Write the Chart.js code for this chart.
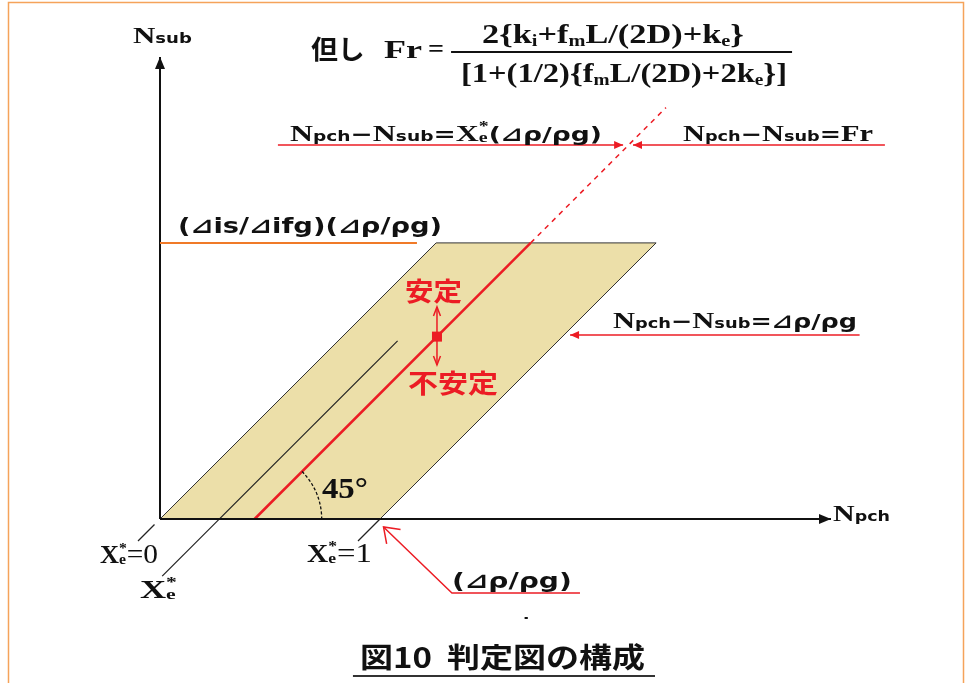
<!DOCTYPE html>
<html>
<head>
<meta charset="utf-8">
<title>判定図の構成</title>
<script src="https://cdn.jsdelivr.net/npm/chart.js@4/dist/chart.umd.min.js"></script>
<style>
  html, body { margin: 0; padding: 0; background: #ffffff; }
  #wrap { width: 969px; height: 683px; }
</style>
</head>
<body>
<div id="wrap"><canvas id="c" width="969" height="683"></canvas></div>
<script>
// ---- diagram values (Npch on x, Nsub on y, both in units of Δρ/ρg) ----
const DRHO = 1.0;              // Npch − Nsub = Δρ/ρg  (Xe* = 1)
const TOP = 1.255;             // (Δis/Δifg)(Δρ/ρg)
const FR = 0.43;               // Npch − Nsub = Fr
const XE = 0.27;               // Npch − Nsub = Xe*(Δρ/ρg)

const bandX = [0, 1.0, 2.255, 1.255, 0];
const bandY = [0, 0, 1.255, 1.255, 0];
const frSolidX = [0.43, 1.685];
const frSolidY = [0, 1.255];
const frDashX = [1.685, 2.30];
const frDashY = [1.255, 1.87];
const xeLineX = [0.01, 1.08];
const xeLineY = [-0.26, 0.81];
const xe0TickX = [-0.10, -0.025];
const xe0TickY = [-0.10, -0.025];
const xe1TickX = [0.90, 1.0];
const xe1TickY = [-0.10, 0];
const xAxisX = [0, 3.05];
const xAxisY = [0, 0];
const yAxisX = [0, 0];
const yAxisY = [0, 2.10];
const topLeaderX = [0, 1.168];
const topLeaderY = [1.255, 1.255];
const leadXeX = [0.536, 2.105];
const leadXeY = [1.70, 1.70];
const leadFrX = [3.295, 2.15];
const leadFrY = [1.70, 1.70];
const leadDrX = [3.18, 1.864];
const leadDrY = [0.836, 0.836];
const leadBotX = [1.909, 1.327, 1.016];
const leadBotY = [-0.336, -0.336, -0.036];
const stabX = [1.259, 1.259];
const stabY = [0.964, 0.70];

// ---- label texts ----
const txtFrac = ['但し', 'Fr', '='];
const txtStable = ['安定', '不安定'];
const txtAngle = '45°';
const txtTitle = '図10  判定図の構成';

const RED = '#ec1c24';
const ORANGE = '#f07a28';
const BAND = '#ecdfa9';
const INK = '#111111';

const pts = (xs, ys) => xs.map((x, i) => ({ x: x, y: ys[i] }));

function lineSet(xs, ys, color, width, extra) {
  return Object.assign({
    data: pts(xs, ys), showLine: true, fill: false, borderColor: color,
    borderWidth: width, pointRadius: 0, tension: 0, clip: false
  }, extra || {});
}

const serifB = s => `bold ${s}px "Liberation Serif"`;
const serif = s => `${s}px "Liberation Serif"`;
const sansB = s => `bold ${s}px "DejaVu Sans", "Noto Sans CJK JP"`;
const jpB = s => `bold ${s}px "Noto Sans CJK JP"`;

// rich text runs: {t, f, dy} or {sup, sub, f, supDy, subDy}
const N = t => ({ t: t, f: serifB(24) });
const sm = t => ({ t: t, f: sansB(14) });
const gs = t => ({ t: t, f: sansB(20) });
const XeStar = (size, small) => [
  { t: 'X', f: serifB(size) },
  { sup: '*', sub: 'e', f: serifB(small), supDy: -size * 0.42, subDy: 1 }
];

const runsNsub = [N('N'), sm('sub')];
const runsNpch = [N('N'), sm('pch')];
const runsNum = [
  { t: '2{k', f: serifB(27) }, { t: 'i', f: serifB(16), dy: 3 },
  { t: '+f', f: serifB(27) }, { t: 'm', f: serifB(16), dy: 3 },
  { t: 'L/(2D)+k', f: serifB(27) }, { t: 'e', f: serifB(16), dy: 3 },
  { t: '}', f: serifB(27) }
];
const runsDen = [
  { t: '[1+(1/2){f', f: serifB(27) }, { t: 'm', f: serifB(16), dy: 3 },
  { t: 'L/(2D)+2k', f: serifB(27) }, { t: 'e', f: serifB(16), dy: 3 },
  { t: '}]', f: serifB(27) }
];
const runsL1 = [N('N'), sm('pch'), gs('−'), N('N'), sm('sub'), gs('='),
  ...XeStar(24, 15), gs('(⊿ρ/ρg)')];
const runsL2 = [N('N'), sm('pch'), gs('−'), N('N'), sm('sub'), gs('='), { t: 'Fr', f: serifB(24) }];
const runsL3 = [{ t: '(⊿is/⊿ifg)(⊿ρ/ρg)', f: sansB(21) }];
const runsL4 = [N('N'), sm('pch'), gs('−'), N('N'), sm('sub'), gs('=⊿ρ/ρg')];
const runsL5 = [{ t: '(⊿ρ/ρg)', f: sansB(21) }];
const runsXe0 = [...XeStar(25, 15), { t: '=0', f: serif(28) }];
const runsXe = [...XeStar(25, 15)];
const runsXe1 = [...XeStar(25, 15), { t: '=1', f: serif(28) }];

function runsWidth(ctx, runs) {
  let w = 0;
  for (const r of runs) {
    ctx.font = r.f;
    if (r.sup !== undefined) w += Math.max(ctx.measureText(r.sup).width, ctx.measureText(r.sub).width);
    else w += ctx.measureText(r.t).width;
  }
  return w;
}
function drawRuns(ctx, runs, x, y, width, color) {
  const nat = runsWidth(ctx, runs);
  ctx.save();
  ctx.translate(x, y);
  ctx.scale(width / nat, 1);
  ctx.fillStyle = color;
  ctx.textAlign = 'left';
  ctx.textBaseline = 'alphabetic';
  let cx = 0;
  for (const r of runs) {
    ctx.font = r.f;
    if (r.sup !== undefined) {
      ctx.fillText(r.sup, cx, r.supDy);
      ctx.fillText(r.sub, cx, r.subDy);
      cx += Math.max(ctx.measureText(r.sup).width, ctx.measureText(r.sub).width);
    } else {
      ctx.fillText(r.t, cx, r.dy || 0);
      cx += ctx.measureText(r.t).width;
    }
  }
  ctx.restore();
}

function arrowHead(ctx, tip, from, len, half, color, open) {
  const a = Math.atan2(tip.y - from.y, tip.x - from.x);
  const bx = tip.x - len * Math.cos(a), by = tip.y - len * Math.sin(a);
  const px = -Math.sin(a) * half, py = Math.cos(a) * half;
  ctx.save();
  if (open) {
    ctx.strokeStyle = color; ctx.lineWidth = 1.5;
    ctx.beginPath();
    ctx.moveTo(bx + px, by + py); ctx.lineTo(tip.x, tip.y); ctx.lineTo(bx - px, by - py);
    ctx.stroke();
  } else {
    ctx.fillStyle = color;
    ctx.beginPath();
    ctx.moveTo(tip.x, tip.y); ctx.lineTo(bx + px, by + py); ctx.lineTo(bx - px, by - py);
    ctx.closePath(); ctx.fill();
  }
  ctx.restore();
}

const decor = {
  id: 'decor',
  beforeDraw(chart) {
    const ctx = chart.ctx;
    ctx.save();
    ctx.fillStyle = '#ffffff';
    ctx.fillRect(0, 0, chart.width, chart.height);
    ctx.restore();
  },
  afterDatasetsDraw(chart) {
    const ctx = chart.ctx;
    const xs = chart.scales.x, ys = chart.scales.y;
    const P = (u, v) => ({ x: xs.getPixelForValue(u), y: ys.getPixelForValue(v) });
    const W = (u, w) => xs.getPixelForValue(u + w) - xs.getPixelForValue(u);
    const text = (runs, u, v, w, color) => { const p = P(u, v); drawRuns(ctx, runs, p.x, p.y, W(u, w), color); };
    const plain = (t, font, u, v, w, color) => text([{ t: t, f: font }], u, v, w, color);

    // axis arrowheads
    arrowHead(ctx, P(xAxisX[1], 0), P(0, 0), 12, 5, INK, false);
    arrowHead(ctx, P(0, yAxisY[1]), P(0, 0), 12, 5, INK, false);

    // leader arrowheads
    arrowHead(ctx, P(leadXeX[1], leadXeY[1]), P(leadXeX[0], leadXeY[0]), 9, 4, RED, false);
    arrowHead(ctx, P(leadFrX[1], leadFrY[1]), P(leadFrX[0], leadFrY[0]), 9, 4, RED, false);
    arrowHead(ctx, P(leadDrX[1], leadDrY[1]), P(leadDrX[0], leadDrY[0]), 9, 4, RED, false);
    arrowHead(ctx, P(leadBotX[2], leadBotY[2]), P(leadBotX[1], leadBotY[1]), 14, 10, RED, true);

    // stability marker on the Fr line
    arrowHead(ctx, P(stabX[0], stabY[0]), P(stabX[1], stabY[1]), 9, 3.5, RED, true);
    arrowHead(ctx, P(stabX[1], stabY[1]), P(stabX[0], stabY[0]), 9, 3.5, RED, true);
    const c = P(stabX[0], stabX[0] - FR);
    ctx.save(); ctx.fillStyle = RED; ctx.fillRect(c.x - 5, c.y - 5, 10, 10); ctx.restore();

    // 45° arc
    const o = P(FR, 0);
    const r = W(FR, 0.305);
    ctx.save();
    ctx.strokeStyle = INK; ctx.lineWidth = 1.3; ctx.setLineDash([3, 2]);
    ctx.beginPath(); ctx.arc(o.x, o.y, r, -Math.PI / 4, 0); ctx.stroke();
    ctx.restore();

    // fraction bar
    const b0 = P(1.323, 2.123), b1 = P(2.873, 2.123);
    ctx.save(); ctx.strokeStyle = INK; ctx.lineWidth = 2;
    ctx.beginPath(); ctx.moveTo(b0.x, b0.y); ctx.lineTo(b1.x, b1.y); ctx.stroke();
    // title underline
    const t0 = P(0.877, -0.714), t1 = P(2.25, -0.714);
    ctx.strokeStyle = '#333333'; ctx.lineWidth = 2;
    ctx.beginPath(); ctx.moveTo(t0.x, t0.y); ctx.lineTo(t1.x, t1.y); ctx.stroke();
    ctx.restore();

    // texts
    text(runsNsub, -0.123, 2.164, 0.268, INK);
    plain(txtFrac[0], jpB(26), 0.686, 2.09, 0.245, INK);
    plain(txtFrac[1], serifB(26), 1.018, 2.095, 0.173, INK);
    plain(txtFrac[2], serifB(26), 1.218, 2.10, 0.073, INK);
    text(runsNum, 1.464, 2.164, 1.19, INK);
    text(runsDen, 1.368, 1.986, 1.482, INK);
    text(runsL1, 0.591, 1.718, 1.418, INK);
    text(runsL2, 2.377, 1.718, 0.864, INK);
    text(runsL3, 0.082, 1.30, 1.20, INK);
    plain(txtStable[0], jpB(26), 1.114, 0.99, 0.259, RED);
    plain(txtStable[1], jpB(26), 1.127, 0.573, 0.409, RED);
    text(runsL4, 2.059, 0.868, 1.109, INK);
    plain(txtAngle, serifB(29), 0.736, 0.095, 0.209, INK);
    text(runsXe0, -0.273, -0.20, 0.264, INK);
    text(runsXe, -0.091, -0.359, 0.168, INK);
    text(runsXe1, 0.668, -0.195, 0.295, INK);
    text(runsL5, 1.327, -0.314, 0.545, INK);
    text(runsNpch, 3.059, -0.009, 0.259, INK);
    plain(txtTitle, jpB(28), 0.909, -0.677, 1.295, INK);
    plain('-', sansB(14), 1.655, -0.47, 0.02, INK);

    // frame
    ctx.save();
    ctx.strokeStyle = '#f5a35a'; ctx.lineWidth = 1.5;
    ctx.beginPath();
    ctx.moveTo(8.5, chart.height); ctx.lineTo(8.5, 2.5); ctx.lineTo(963.5, 2.5); ctx.lineTo(963.5, chart.height);
    ctx.stroke();
    ctx.restore();
  }
};

// pixel frame: origin of Npch/Nsub sits at (160, 519), 220 px per unit
const X_MIN = -160 / 220, X_MAX = (969 - 160) / 220;
const Y_MIN = -(683 - 519) / 220, Y_MAX = 519 / 220;

new Chart(document.getElementById('c'), {
  type: 'scatter',
  data: {
    datasets: [
      lineSet(stabX, stabY, RED, 1.5),
      lineSet(leadXeX, leadXeY, RED, 1.5),
      lineSet(leadFrX, leadFrY, RED, 1.5),
      lineSet(leadDrX, leadDrY, RED, 1.5),
      lineSet(leadBotX, leadBotY, RED, 1.5),
      lineSet(topLeaderX, topLeaderY, ORANGE, 2),
      lineSet(xAxisX, xAxisY, INK, 2),
      lineSet(yAxisX, yAxisY, INK, 2),
      lineSet(frSolidX, frSolidY, RED, 2.5),
      lineSet(frDashX, frDashY, RED, 1.5, { borderDash: [5, 5] }),
      lineSet(xeLineX, xeLineY, '#222222', 1.2),
      lineSet(xe0TickX, xe0TickY, '#222222', 1.2),
      lineSet(xe1TickX, xe1TickY, '#222222', 1.2),
      lineSet(bandX, bandY, '#333333', 1, { fill: 'shape', backgroundColor: BAND, order: 10 })
    ]
  },
  options: {
    responsive: false,
    animation: false,
    layout: { padding: 0 },
    plugins: { legend: { display: false }, tooltip: { enabled: false } },
    events: [],
    scales: {
      x: { type: 'linear', min: X_MIN, max: X_MAX, display: false },
      y: { type: 'linear', min: Y_MIN, max: Y_MAX, display: false }
    }
  },
  plugins: [decor]
});
</script>
</body>
</html>
